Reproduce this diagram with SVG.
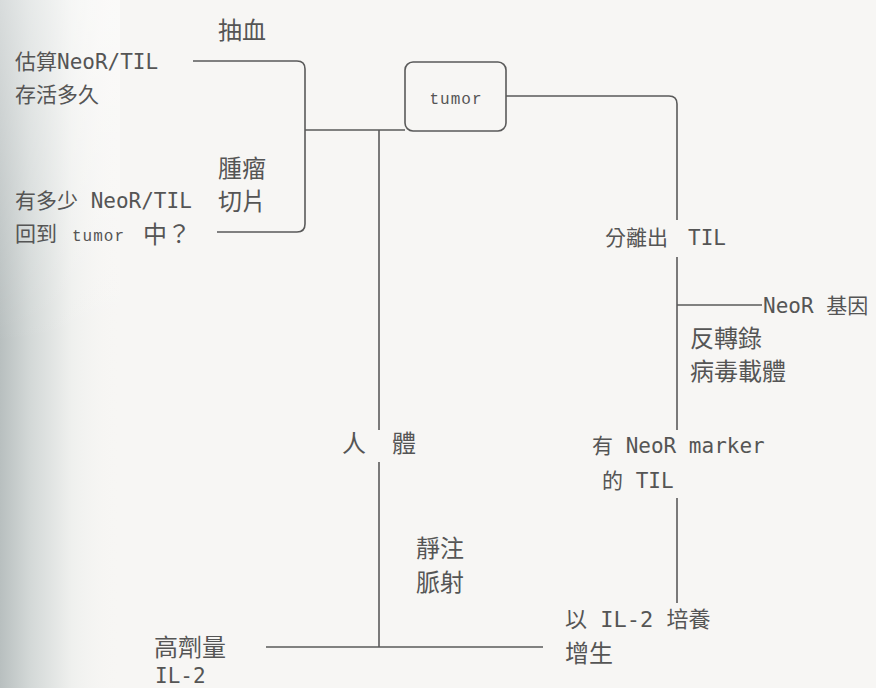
<svg xmlns="http://www.w3.org/2000/svg" width="876" height="688" viewBox="0 0 876 688">
<defs>
<linearGradient id="shade" x1="0" y1="0" x2="1" y2="0">
<stop offset="0" stop-color="#b8bfbf"/>
<stop offset="0.25" stop-color="#d3d8d7"/>
<stop offset="0.6" stop-color="#eff0ee"/>
<stop offset="1" stop-color="#f7f6f4" stop-opacity="0"/>
</linearGradient>
<linearGradient id="vfade" x1="0" y1="0" x2="0" y2="1">
<stop offset="0" stop-color="#fff" stop-opacity="0.45"/>
<stop offset="0.5" stop-color="#fff" stop-opacity="0"/>
<stop offset="1" stop-color="#fff" stop-opacity="0"/>
</linearGradient>
</defs>
<style>
.ln{fill:none;stroke:#5a5a5a;stroke-width:1.6}
.t{font-family:"DejaVu Sans Mono","Noto Sans CJK TC",monospace;font-size:21px;fill:#555}
.c{font-family:"Noto Sans CJK TC","DejaVu Sans",sans-serif;font-size:24px;fill:#555}
.s{font-family:"Liberation Mono","DejaVu Sans Mono",monospace;font-size:16px;letter-spacing:1px;fill:#555}
</style>
<rect width="876" height="688" fill="#f7f6f4"/>
<rect width="120" height="688" fill="url(#shade)"/>
<rect width="120" height="688" fill="url(#vfade)"/>
<g id="connectors">
<path class="ln" d="M193,61 H297 Q305,61 305,69 V224 Q305,232 297,232 H217"/>
<path class="ln" d="M305,130 H405"/>
<path class="ln" d="M506,96 H669 Q677,96 677,104 V220"/>
<path class="ln" d="M677,257 V430"/>
<path class="ln" d="M677,305 H762"/>
<path class="ln" d="M677,498 V603"/>
<path class="ln" d="M379,130 V430"/>
<path class="ln" d="M379,462 V647"/>
<path class="ln" d="M266,647 H543"/>
</g>
<g id="tumor">
<rect class="ln" x="405" y="62" width="101" height="69" rx="8"/>
<text class="s" x="456" y="104" text-anchor="middle">tumor</text>
</g>
<g id="survival">
<text class="t" x="15" y="69">估算NeoR/TIL</text>
<text class="t" x="15" y="102">存活多久</text>
</g>
<g id="blood">
<text class="c" x="218" y="39">抽血</text>
</g>
<g id="slice">
<text class="c" x="218" y="177">腫瘤</text>
<text class="c" x="218" y="210">切片</text>
</g>
<g id="return">
<text class="t" x="15" y="208">有多少 NeoR/TIL</text>
<text class="t" x="15" y="241">回到</text>
<text class="s" x="72" y="241">tumor</text>
<text class="c" x="143" y="243">中？</text>
</g>
<g id="isolate">
<text class="t" x="605" y="245">分離出</text>
<text class="t" x="688" y="245">TIL</text>
</g>
<g id="neor">
<text class="t" x="763" y="313">NeoR 基因</text>
</g>
<g id="vector">
<text class="c" x="690" y="347">反轉錄</text>
<text class="c" x="690" y="380">病毒載體</text>
</g>
<g id="marker">
<text class="t" x="592" y="453">有 NeoR marker</text>
<text class="t" x="602" y="488">的 TIL</text>
</g>
<g id="culture">
<text class="t" x="565" y="627" style="font-size:22px">以 IL-2 培養</text>
<text class="c" x="565" y="662">增生</text>
</g>
<g id="body">
<text class="c" x="342" y="452">人</text>
<text class="c" x="392" y="452">體</text>
</g>
<g id="iv">
<text class="c" x="416" y="557">靜注</text>
<text class="c" x="416" y="591">脈射</text>
</g>
<g id="il2">
<text class="c" x="154" y="656">高劑量</text>
<text class="t" x="155" y="683">IL-2</text>
</g>
</svg>
